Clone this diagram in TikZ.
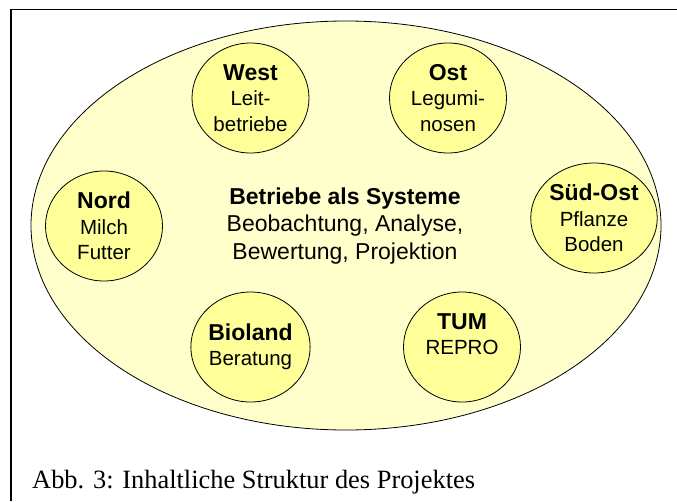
\documentclass[tikz,border=0pt]{standalone}
\usepackage{fontspec}
\setmainfont{Liberation Sans}
\newfontfamily\capfont{Liberation Serif}
\usetikzlibrary{shapes.geometric}
\definecolor{hellgelb}{RGB}{255,255,204}
\definecolor{gelb}{RGB}{255,255,153}

\begin{document}
\begin{tikzpicture}[x=1pt,y=-1pt]
\tikzstyle{feld}=[ellipse,draw,line width=0.8pt,fill=hellgelb,minimum width=630pt,minimum height=409pt,inner sep=0pt]
\tikzstyle{partner}=[ellipse,draw,line width=0.8pt,fill=gelb,minimum width=117pt,minimum height=110pt,inner sep=0pt,align=center,font=\fontsize{20.5}{25.5}\selectfont]
\tikzstyle{titel}=[align=center,font=\fontsize{23}{27.5}\selectfont]
\useasboundingbox (0,0) rectangle (677,501);
\draw[line width=1.5pt] (677,9.5) -- (11,9.5) -- (11,501);
\node[feld] (system) at (346,225.5) {};
\node[partner] (west) at (250.5,98) {{\fontsize{23}{25.5}\bfseries West}\\Leit-\\betriebe};
\node[partner] (ost) at (448,98) {{\fontsize{23}{25.5}\bfseries Ost}\\Legumi-\\nosen};
\node[partner] (nord) at (104,226) {{\fontsize{23}{25.5}\bfseries Nord}\\Milch\\Futter};
\node[partner] (suedost) at (594,218) {{\fontsize{23}{25.5}\bfseries Süd-Ost}\\Pflanze\\Boden};
\node[partner] (bioland) at (250.5,347) {{\fontsize{23}{25.5}\bfseries Bioland}\\Beratung};
\node[partner] (tum) at (462,347) {{\fontsize{23}{25.5}\bfseries TUM}\\REPRO\\\mbox{}};
\node[titel] (mitte) at (345,226) {\textbf{Betriebe als Systeme}\\Beobachtung, Analyse,\\Bewertung, Projektion};
\node[anchor=base west,inner sep=0pt,font=\capfont\fontsize{26.4}{30}\selectfont] (abb) at (32,488) {Abb. 3: Inhaltliche Struktur des Projektes};
\end{tikzpicture}
\end{document}
